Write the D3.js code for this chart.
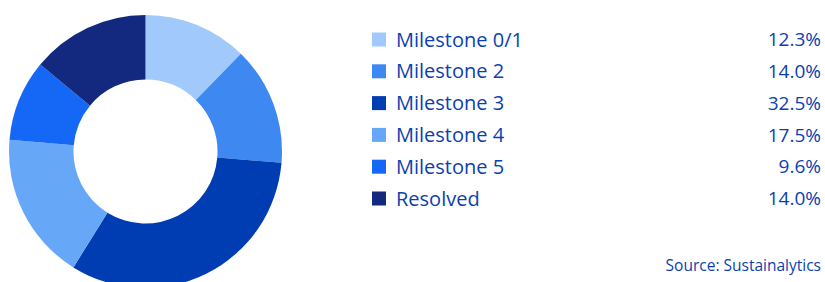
<!DOCTYPE html>
<html>
<head>
<meta charset="utf-8">
<script src="https://cdn.jsdelivr.net/npm/d3@7"></script>
<style>
  body { margin: 0; background: #fff; }
  svg { display: block; }
</style>
</head>
<body>
<svg id="chart"></svg>
<script>
// data
const categories = ['Milestone 0/1', 'Milestone 2', 'Milestone 3', 'Milestone 4', 'Milestone 5', 'Resolved'];
const shares = [12.3, 14.0, 32.5, 17.5, 9.6, 14.0];
const colors = ['#a1c9fb', '#3d89f1', '#003db2', '#66a7f8', '#1568f6', '#12297f'];
const sourceText = 'Source: Sustainalytics';

// settings
const config = {
  width: 825,
  height: 282,
  donut: { cx: 145.5, cy: 151.5, outer: 136.5, inner: 72 },
  legend: { x: 372, y: 39.5, step: 31.8, box: 14, textX: 396, valueX: 821 },
  textColor: '#0b3fb1',
  font: '"Open Sans", sans-serif',
};

const rows = categories.map((c, i) => ({ label: c, value: shares[i], color: colors[i] }));

const svg = d3.select('#chart')
  .attr('width', config.width)
  .attr('height', config.height);

// donut
const pie = d3.pie().sort(null).value(d => d.value);
const arc = d3.arc().innerRadius(config.donut.inner).outerRadius(config.donut.outer);

svg.append('g')
  .attr('transform', `translate(${config.donut.cx}, ${config.donut.cy})`)
  .selectAll('path')
  .data(pie(rows))
  .join('path')
  .attr('d', arc)
  .attr('fill', d => d.data.color);

// legend
const y = d3.scalePoint()
  .domain(categories)
  .range([config.legend.y, config.legend.y + config.legend.step * (categories.length - 1)]);

const item = svg.append('g')
  .selectAll('g')
  .data(rows)
  .join('g')
  .attr('transform', d => `translate(0, ${y(d.label)})`);

item.append('rect')
  .attr('x', config.legend.x)
  .attr('y', -config.legend.box / 2)
  .attr('width', config.legend.box)
  .attr('height', config.legend.box)
  .attr('fill', d => d.color);

item.append('text')
  .attr('x', config.legend.textX)
  .attr('dy', '0.35em')
  .attr('fill', config.textColor)
  .attr('font-family', config.font)
  .attr('font-size', 20)
  .attr('font-weight', 500)
  .text(d => d.label);

item.append('text')
  .attr('x', config.legend.valueX)
  .attr('dy', '0.35em')
  .attr('text-anchor', 'end')
  .attr('fill', config.textColor)
  .attr('font-family', config.font)
  .attr('font-size', 19)
  .attr('font-weight', 500)
  .text(d => d.value.toFixed(1) + '%');

// source note
svg.append('text')
  .attr('x', config.legend.valueX)
  .attr('y', 271)
  .attr('text-anchor', 'end')
  .attr('fill', config.textColor)
  .attr('font-family', config.font)
  .attr('font-size', 15.5)
  .text(sourceText);
</script>
</body>
</html>
